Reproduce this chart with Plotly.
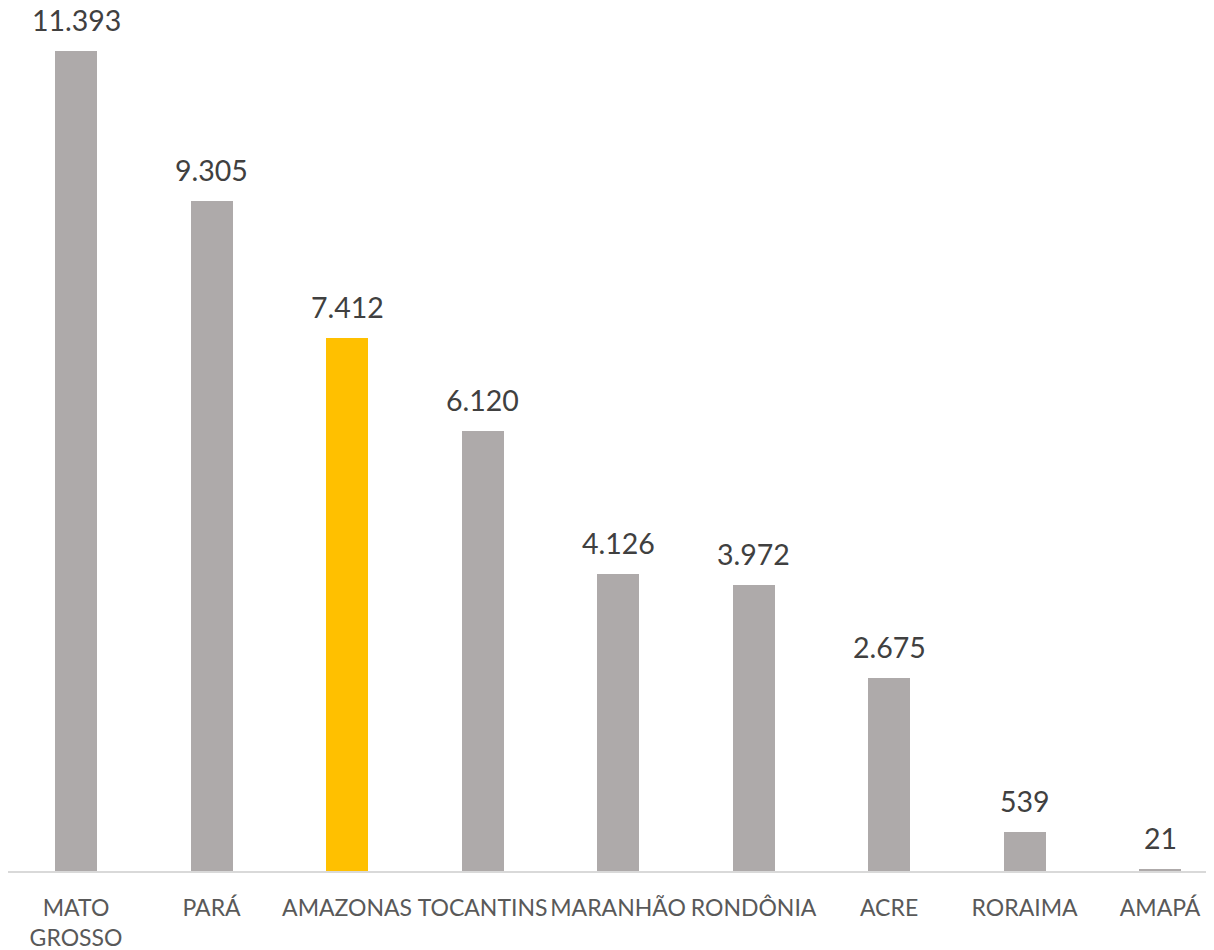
import plotly.graph_objects as go

categories = ["MATO<br>GROSSO", "PARÁ", "AMAZONAS", "TOCANTINS", "MARANHÃO", "RONDÔNIA", "ACRE", "RORAIMA", "AMAPÁ"]
values = [11393, 9305, 7412, 6120, 4126, 3972, 2675, 539, 21]
highlight = "AMAZONAS"

gray = "#AEAAAA"
gold = "#FFC000"
colors = [gold if c == highlight else gray for c in categories]

fig = go.Figure()
fig.add_trace(go.Bar(
    x=list(range(len(categories))),
    y=values,
    marker=dict(color=colors, line=dict(width=0)),
    width=0.31,
    hoverinfo="skip",
))

for i, v in enumerate(values):
    fig.add_annotation(
        x=i, y=v, text=f"{v:,}".replace(",", "."),
        showarrow=False, yanchor="bottom", yshift=12,
        font=dict(family="Lato", size=28.5, color="#404040"),
    )

fig.update_layout(
    width=1214, height=950,
    margin=dict(l=0, r=0, t=0, b=87),
    plot_bgcolor="white", paper_bgcolor="white",
    showlegend=False,
    bargap=0,
)
fig.update_xaxes(
    tickmode="array", tickvals=list(range(len(categories))), ticktext=categories,
    range=[-0.502, 8.457],
    showline=True, linecolor="#D9D9D9", linewidth=1.5,
    showgrid=False, zeroline=False, ticks="",
    ticklabelstandoff=16,
    tickfont=dict(family="Lato", size=23, color="#595959"),
)
fig.update_yaxes(
    range=[0, 11991], visible=False, showgrid=False, zeroline=False,
)

fig.write_html("out.html")
